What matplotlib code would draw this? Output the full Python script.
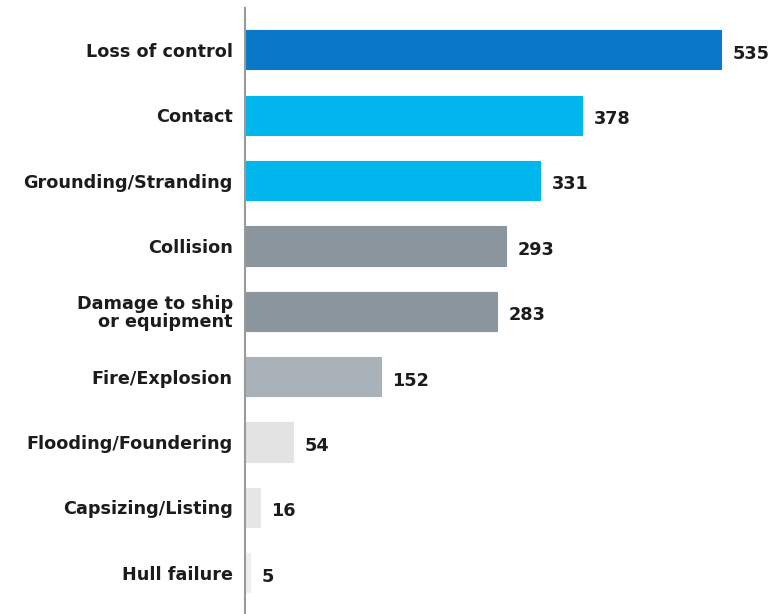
import matplotlib.pyplot as plt

plt.rcParams["font.family"] = ["DejaVu Sans"]

categories = [
    "Loss of control",
    "Contact",
    "Grounding/Stranding",
    "Collision",
    "Damage to ship\nor equipment",
    "Fire/Explosion",
    "Flooding/Foundering",
    "Capsizing/Listing",
    "Hull failure",
]
counts = [535, 378, 331, 293, 283, 152, 54, 16, 5]
colors = [
    "#0a78c9",
    "#00b6ec",
    "#00b6ec",
    "#8b959d",
    "#8b959d",
    "#a9b2b9",
    "#e3e3e3",
    "#e6e6e6",
    "#efefef",
]

fig = plt.figure(figsize=(7.74, 6.14), dpi=100)
ax = fig.add_axes([0.317, 0.0, 0.683, 0.987])

y = list(range(len(categories)))
ax.barh(y, counts, height=0.6, color=colors, edgecolor=colors, linewidth=0.8)

# value labels just past the bar ends
for yi, v in zip(y, counts):
    ax.text(v + 13, yi + 0.06, str(v), va="center", ha="left",
            fontsize=12.7, fontweight="bold", color="#1c1c1c")

ax.set_yticks(y)
ax.set_yticklabels(categories, fontsize=12.7, fontweight="bold", color="#1c1c1c",
                   linespacing=0.95)
ax.tick_params(axis="y", length=0, pad=9)
ax.set_xticks([])

ax.set_xlim(0, 594)
ax.set_ylim(8.63, -0.64)

for side in ["top", "right", "bottom"]:
    ax.spines[side].set_visible(False)
ax.spines["left"].set_color("#9a9a9a")
ax.spines["left"].set_linewidth(1.5)

fig.savefig("out.png", dpi=100)
